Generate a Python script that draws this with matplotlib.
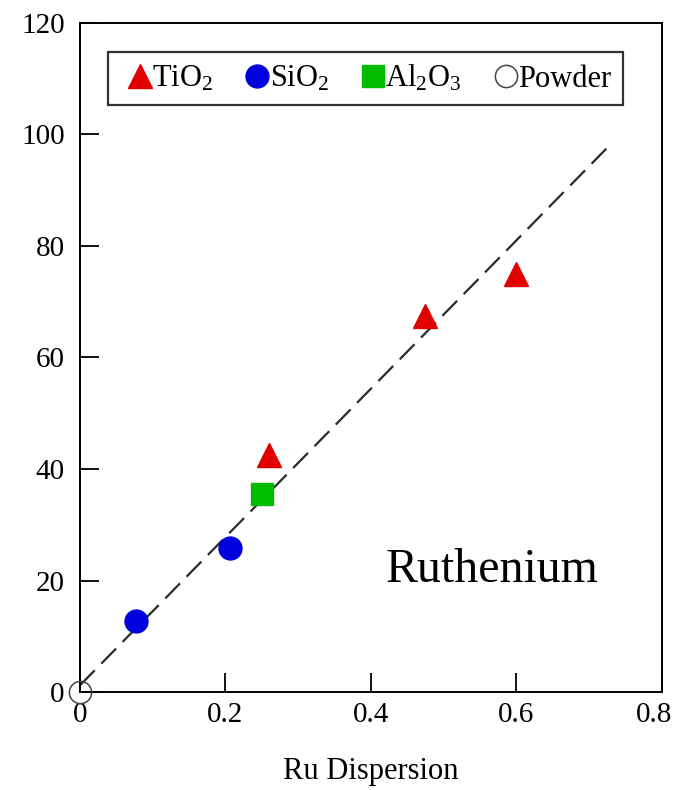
import matplotlib
matplotlib.use("Agg")
import matplotlib.pyplot as plt
import matplotlib.transforms as mtransforms
import numpy as np

plt.rcParams['font.family'] = ['Liberation Serif', 'DejaVu Serif']
plt.rcParams['mathtext.fontset'] = 'custom'
plt.rcParams['mathtext.rm'] = 'Liberation Serif'
plt.rcParams['mathtext.it'] = 'Liberation Serif:italic'

# Ru dispersion vs. value for each support
tio2_x = [0.26, 0.474, 0.599]
tio2_y = [42.5, 67.4, 75.0]
sio2_x = [0.077, 0.206]
sio2_y = [12.7, 25.8]
al2o3_x = [0.250]
al2o3_y = [35.5]
powder_x = [0.0]
powder_y = [0.0]

# dashed guide line
fit_x = [0.0, 0.73]
fit_slope = 133.0
fit_icpt = 1.2

x_ticks = [0, 0.2, 0.4, 0.6, 0.8]
x_ticklabels = ['0', '0.2', '0.4', '0.6', '0.8']
y_ticks = [0, 20, 40, 60, 80, 100, 120]

fig = plt.figure(figsize=(6.75, 7.9), dpi=100)
ax = fig.add_axes([0.1185, 0.124, 0.862, 0.847])

fx = np.array(fit_x)
ax.plot(fx, fit_icpt + fit_slope * fx, color='#2a2a2a', lw=1.6,
        ls=(0, (9.5, 4.2)), zorder=1)

ax.plot(tio2_x, tio2_y, ls='none', marker='^', ms=17, color='#e00000',
        mec='#e00000', label='TiO$_2$', zorder=3)
ax.plot(sio2_x, sio2_y, ls='none', marker='o', ms=16.5, color='#0000dd',
        mec='#0000dd', label='SiO$_2$', zorder=3)
ax.plot(al2o3_x, al2o3_y, ls='none', marker='s', ms=15.5, color='#00bb00',
        mec='#00bb00', label='Al$_2$O$_3$', zorder=3)
ax.plot(powder_x, powder_y, ls='none', marker='o', ms=16, mfc='none',
        mec='#444444', mew=1.1, label='Powder', zorder=3, clip_on=False)

ax.set_xlim(0, 0.8)
ax.set_ylim(0, 120)
ax.set_xticks(x_ticks)
ax.set_xticklabels(x_ticklabels)
ax.set_yticks(y_ticks)
ax.tick_params(direction='in', length=14, width=1.3, labelsize=21)
ax.tick_params(axis='x', pad=7)
ax.tick_params(axis='y', pad=11)
for s in ax.spines.values():
    s.set_linewidth(1.4)

# last x label sits a little left of its tick
last = ax.get_xticklabels()[-1]
last.set_transform(last.get_transform() +
                   mtransforms.ScaledTranslation(-8 / 100, 0, fig.dpi_scale_trans))

ax.set_xlabel('Ru Dispersion', fontsize=22, labelpad=21)
ax.text(0.708, 0.182, 'Ruthenium', transform=ax.transAxes, fontsize=34.5,
        ha='center', va='center')

leg = ax.legend(loc='upper center', bbox_to_anchor=(0.491, 0.957), ncol=4,
                fontsize=22, handletextpad=-0.25, columnspacing=0.8,
                borderpad=0.38, fancybox=False, frameon=True,
                handlelength=1.3, borderaxespad=0.0)
leg.get_frame().set_edgecolor('black')
leg.get_frame().set_linewidth(1.6)

fig.savefig('out.png', dpi=100)
